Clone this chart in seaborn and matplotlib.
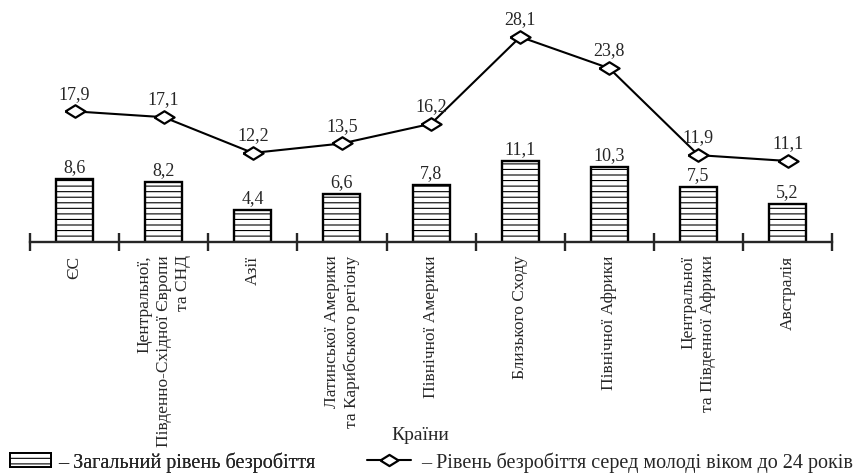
import seaborn as sns
import matplotlib.pyplot as plt
import numpy as np

categories = ['ЄС',
              'Центральної,\nПівденно-Східної Європи\nта СНД',
              'Азії',
              'Латинської Америки\nта Карибського регіону',
              'Північної Америки',
              'Близького Сходу',
              'Північної Африки',
              'Центральної\nта Південної Африки',
              'Австралія']
total = [8.6, 8.2, 4.4, 6.6, 7.8, 11.1, 10.3, 7.5, 5.2]
youth = [17.9, 17.1, 12.2, 13.5, 16.2, 28.1, 23.8, 11.9, 11.1]

sns.set_style('white')
plt.rcParams['font.family'] = ['Liberation Serif', 'DejaVu Serif']
plt.rcParams['hatch.color'] = '#888888'
plt.rcParams['hatch.linewidth'] = 0.8

# flat diamond marker
flat_diamond = [(-1, 0), (0, 0.62), (1, 0), (0, -0.62), (-1, 0)]

fig = plt.figure(figsize=(8.57, 4.77), dpi=100)
ax = fig.add_axes([0.035, 0.4906, 0.936, 0.459])

x = np.arange(len(categories))
sns.barplot(x=x, y=total, ax=ax, width=0.415, color='white',
            edgecolor='black', linewidth=1.7, hatch='---', native_scale=True)
sns.lineplot(x=x, y=youth, ax=ax, color='black', linewidth=1.5,
             marker=flat_diamond, markersize=14.5, markerfacecolor='white',
             markeredgecolor='black', markeredgewidth=1.6, sort=False)

def fmt(v):
    return f'{v:.1f}'.replace('.', ',')

for xi, v in zip(x, total):
    ax.annotate(fmt(v), (xi, v), xytext=(0, 3), textcoords='offset points',
                ha='center', va='bottom', fontsize=13)
for xi, v in zip(x, youth):
    ax.annotate(fmt(v), (xi, v), xytext=(0, 7), textcoords='offset points',
                ha='center', va='bottom', fontsize=13)

ax.set_xlim(-0.5, 8.5)
ax.set_ylim(0, 30)
for s in ['top', 'right', 'left']:
    ax.spines[s].set_visible(False)
ax.spines['bottom'].set_linewidth(1.7)
ax.set_yticks([])
ax.set_xticks(np.arange(-0.5, 9, 1))
ax.set_xticklabels([])
ax.tick_params(axis='x', which='major', direction='inout', length=13, width=1.7, bottom=True)
ax.set_xticks(x, minor=True)
ax.set_xticklabels(categories, minor=True, rotation=90, fontsize=12.5,
                   multialignment='right', va='top', linespacing=1.3)
ax.tick_params(axis='x', which='minor', length=0, pad=9)
ax.set_xlabel('')
ax.set_ylabel('')

fig.text(0.49, 0.088, 'Країни', ha='center', va='center', fontsize=14)

h1 = plt.Rectangle((0, 0), 1, 1, facecolor='white', edgecolor='black',
                   hatch='---', linewidth=1.4)
h2 = plt.Line2D([], [], color='black', linewidth=1.5, marker=flat_diamond,
                markersize=13, markerfacecolor='white', markeredgecolor='black',
                markeredgewidth=1.6)
leg1 = fig.legend([h1], ['– Загальний рівень безробіття'],
                  loc='center left', bbox_to_anchor=(0.012, 0.03), frameon=False,
                  fontsize=14.5, handlelength=2.0, handleheight=0.7,
                  handletextpad=0.4, borderpad=0, borderaxespad=0)
fig.legend([h2], ['– Рівень безробіття серед молоді віком до 24 років'],
           loc='center left', bbox_to_anchor=(0.428, 0.03), frameon=False,
           fontsize=14.5, handlelength=2.2, handletextpad=0.5, borderpad=0,
           borderaxespad=0)
fig.add_artist(leg1)

fig.savefig('out.png', dpi=100)
